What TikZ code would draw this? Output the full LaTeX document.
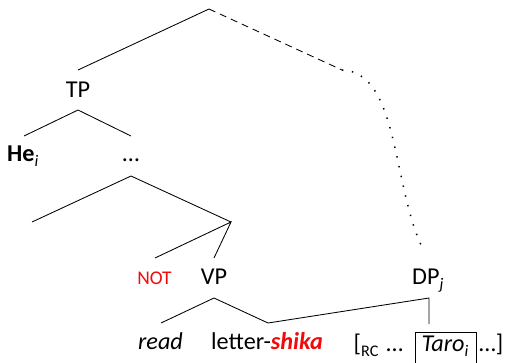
\documentclass[tikz,border=0pt]{standalone}
\usepackage{fontspec}
\setmainfont{Carlito}
\definecolor{hired}{RGB}{240,10,10}
\newcommand{\sbs}[1]{\raisebox{-5.5pt}{\fontsize{16.2}{17}\selectfont #1}}
\begin{document}
\begin{tikzpicture}[x=1pt,y=-1pt,
  branch/.style={line width=0.85pt},
  movedash/.style={line width=0.85pt, dash pattern=on 7pt off 5pt},
  movedot/.style={line width=1.5pt, dash pattern=on 1.4pt off 8.6pt},
  lbl/.style={inner sep=0pt, anchor=base, font=\fontsize{24.2}{28}\selectfont},
  hilite/.style={text=hired}]
\useasboundingbox (0,0) rectangle (506,362);
\clip (0,0) rectangle (506,362);

% branch points
\coordinate (root) at (209,9);
\coordinate (tpTop) at (78,70);
\coordinate (trace) at (342,70);
\coordinate (dpTop) at (424,251);
\coordinate (tpBr) at (78,110);
\coordinate (heTop) at (24,136);
\coordinate (dotsTop) at (131,136);
\coordinate (dotsBr) at (131,176);
\coordinate (leftEnd) at (32,222);
\coordinate (negBr) at (231,222);
\coordinate (notTop) at (155,258);
\coordinate (vpTop) at (214,258);
\coordinate (vpBr) at (214,298);
\coordinate (readTop) at (161,323);
\coordinate (letterTop) at (268,323);
\coordinate (dpBr) at (429,298);
\coordinate (rcTop) at (429,324);

% labels
\node[lbl] (tp) at (78,97) {TP};
\node[lbl, anchor=base west] (he) at (7,161) {\textbf{He}\sbs{\textit{i}}};
\node[lbl] (dots) at (131,161) {…};
\node[lbl, hilite, font=\fontsize{19.4}{23}\selectfont] (neg) at (154.5,284) {NOT};
\node[lbl] (vp) at (214,284) {VP};
\node[lbl, anchor=base west] (dp) at (412,284) {DP\sbs{\textit{j}}};
\node[lbl] (read) at (160.5,349) {\textit{read}};
\node[lbl, anchor=base west] (letter) at (211,349) {letter-{\color{hired}\bfseries\itshape shika}};
\node[lbl, anchor=base west] (rcOpen) at (353.5,351) {[\sbs{RC}\,\,…};
\node[lbl, anchor=base west] (taro) at (421.5,351) {\textit{Taro}\sbs{\textit{i}}};
\node[lbl, anchor=base west] (rcClose) at (479,351) {…]};
\draw[branch] (415,332) rectangle (476,372);

% tree branches
\draw[branch] (tpTop) -- (root);
\draw[movedash] (root) -- (trace);
\draw[movedot] (trace) .. controls (400,72) and (392,190) .. (dpTop);
\draw[branch] (heTop) -- (tpBr) -- (dotsTop);
\draw[branch] (leftEnd) -- (dotsBr) -- (negBr);
\draw[branch] (notTop) -- (negBr) -- (vpTop);
\draw[branch] (readTop) -- (vpBr) -- (letterTop) -- (dpBr) -- (rcTop);
\end{tikzpicture}
\end{document}
